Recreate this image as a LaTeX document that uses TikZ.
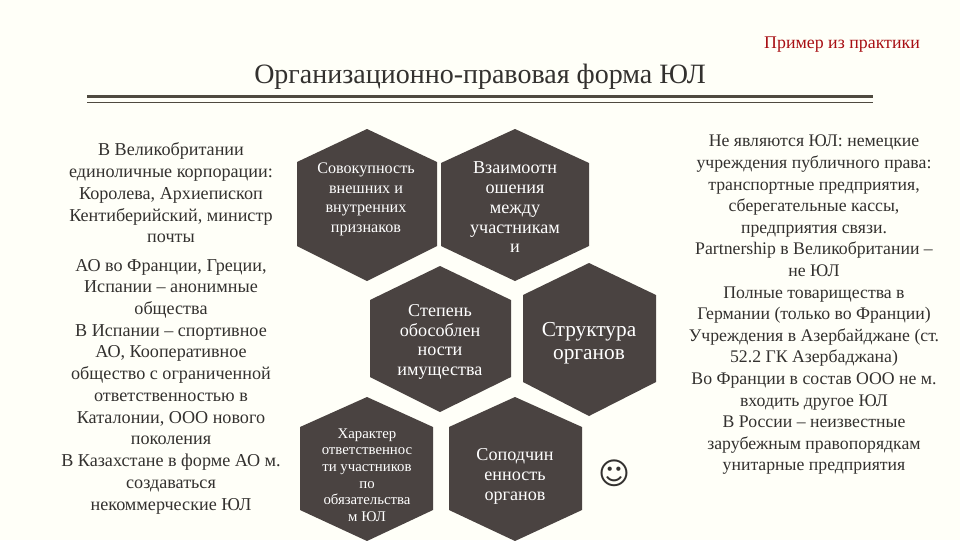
\documentclass[tikz,border=0pt]{standalone}
\usepackage{fontspec}
\setmainfont{Liberation Serif}
\newfontfamily\symfont{DejaVu Sans}
\usepackage{xcolor}
\definecolor{pagebg}{HTML}{FFFFF8}
\definecolor{hexdark}{HTML}{4A4341}
\definecolor{rulegray}{HTML}{4F4A40}
\definecolor{inkgray}{HTML}{33312F}
\definecolor{notered}{HTML}{A80F14}
\begin{document}
\begin{tikzpicture}[
  x=0.75pt, y=-0.75pt,
  hexa/.style={fill=hexdark},
  hextext/.style={align=center, text=white, inner sep=0pt},
  sidetext/.style={align=center, text=inkgray, inner sep=0pt}
]
\fill[pagebg] (0,0) rectangle (960,540);
\useasboundingbox (0,0) rectangle (960,540);
% header
\node[text=notered, inner sep=0pt, font=\fontsize{13.4}{15}\selectfont] (note) at (842,45) {Пример из практики};
\node[text=inkgray, inner sep=0pt, font=\fontsize{21}{25}\selectfont] (title) at (480,77) {Организационно-правовая форма ЮЛ};
\fill[rulegray] (87,94.5) rectangle (873,98);
\fill[rulegray] (87,101.5) rectangle (873,102.7);
% hexagons
\fill[hexa] (367,129)--(437,162)--(437,246)--(367,281)--(297,246)--(297,162)--cycle;
\fill[hexa] (515,129)--(589,163)--(589,246)--(515,281)--(441,246)--(441,163)--cycle;
\fill[hexa] (440,266)--(511,300)--(511,377)--(440,412)--(370,377)--(370,300)--cycle;
\fill[hexa] (589,263)--(656,295)--(656,382)--(589,416)--(523,382)--(523,295)--cycle;
\fill[hexa] (367,397)--(433,427)--(433,510)--(367,541)--(300,510)--(300,427)--cycle;
\fill[hexa] (515,397)--(582,427)--(582,510)--(515,541)--(449,510)--(449,427)--cycle;
\node[hextext, font=\fontsize{12.1}{14.7}\selectfont] (sovok) at (366,199.5) {Совокупность\\внешних и\\внутренних\\признаков};
\node[hextext, font=\fontsize{13.6}{14.8}\selectfont] (vzaim) at (515,207.5) {Взаимоотн\\ошения\\между\\участникам\\и};
\node[hextext, font=\fontsize{13.6}{14.8}\selectfont] (stepen) at (440,342) {Степень\\обособлен\\ности\\имущества};
\node[hextext, font=\fontsize{16}{17.5}\selectfont] (struct) at (589,343) {Структура\\органов};
\node[hextext, font=\fontsize{11.1}{12.4}\selectfont] (harakt) at (367,475) {Характер\\ответственнос\\ти участников\\по\\обязательства\\м ЮЛ};
\node[hextext, font=\fontsize{13.6}{14.8}\selectfont] (sopod) at (515,476.5) {Соподчин\\енность\\органов};
\node[text=inkgray, inner sep=0pt, font=\symfont\fontsize{23}{25}\selectfont] (smile) at (614,473) {☺};
% side columns
\node[sidetext, font=\fontsize{13.6}{16.3}\selectfont] (brit) at (171,193) {В Великобритании\\единоличные корпорации:\\Королева, Архиепископ\\Кентиберийский, министр\\почты};
\node[sidetext, font=\fontsize{13.6}{16.3}\selectfont] (ao) at (171,386.5) {АО во Франции, Греции,\\Испании – анонимные\\общества\\В Испании – спортивное\\АО, Кооперативное\\общество с ограниченной\\ответственностью в\\Каталонии, ООО нового\\поколения\\В Казахстане в форме АО м.\\создаваться\\некоммерческие ЮЛ};
\node[sidetext, font=\fontsize{13.3}{16.2}\selectfont] (notul) at (814,305) {Не являются ЮЛ: немецкие\\учреждения публичного права:\\транспортные предприятия,\\сберегательные кассы,\\предприятия связи.\\Partnership в Великобритании –\\не ЮЛ\\Полные товарищества в\\Германии (только во Франции)\\Учреждения в Азербайджане (ст.\\52.2 ГК Азербаджана)\\Во Франции в состав ООО не м.\\входить другое ЮЛ\\В России – неизвестные\\зарубежным правопорядкам\\унитарные предприятия};
\end{tikzpicture}
\end{document}
